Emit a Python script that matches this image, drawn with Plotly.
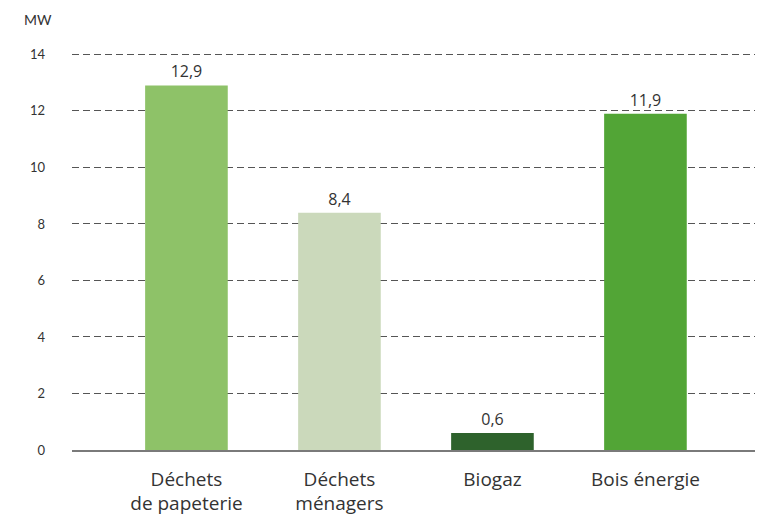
import plotly.graph_objects as go

# Installed capacity by renewable source (MW)
categories = ["Déchets<br>de papeterie", "Déchets<br>ménagers", "Biogaz", "Bois énergie"]
values = [12.9, 8.4, 0.6, 11.9]
bar_colors = ["#8ec268", "#cbd9bb", "#2e622c", "#52a536"]
y_ticks = [0, 2, 4, 6, 8, 10, 12, 14]

FONT = "Lato, 'Open Sans', sans-serif"
LABEL_FONT = "'Open Sans', Lato, sans-serif"
TEXT = "#333333"

fig = go.Figure(
    go.Bar(
        x=categories,
        y=values,
        marker=dict(color=bar_colors, line=dict(width=0)),
        width=0.54,
        texttemplate="%{y:.1f}",
        textposition="outside",
        textfont=dict(family=LABEL_FONT, size=16, color=TEXT),
        cliponaxis=False,
        hoverinfo="skip",
    )
)

fig.update_layout(
    width=760,
    height=515,
    margin=dict(l=72, r=5, t=53, b=65),
    paper_bgcolor="white",
    plot_bgcolor="white",
    separators=", ",
    showlegend=False,
    font=dict(family=FONT, color=TEXT),
    annotations=[
        dict(
            text="MW",
            xref="paper", yref="paper",
            x=-0.073, y=1.085,
            xanchor="left", yanchor="middle",
            showarrow=False,
            font=dict(family=FONT, size=14, color=TEXT),
        )
    ],
)

fig.update_xaxes(
    type="category",
    range=[-0.748, 3.716],
    automargin=False,
    showgrid=False,
    showline=True,
    linecolor="#7a7a7a",
    linewidth=1.5,
    ticks="",
    tickfont=dict(family=LABEL_FONT, size=19, color=TEXT),
    ticklabelstandoff=11,
)

fig.update_yaxes(
    range=[0, 14.05],
    tickvals=y_ticks,
    automargin=False,
    showgrid=True,
    gridcolor="#555555",
    gridwidth=1,
    griddash="7px,4px",
    zeroline=False,
    showline=False,
    ticks="",
    tickfont=dict(family=FONT, size=13, color=TEXT),
    ticklabelstandoff=26,
)

fig.write_html("out.html")
